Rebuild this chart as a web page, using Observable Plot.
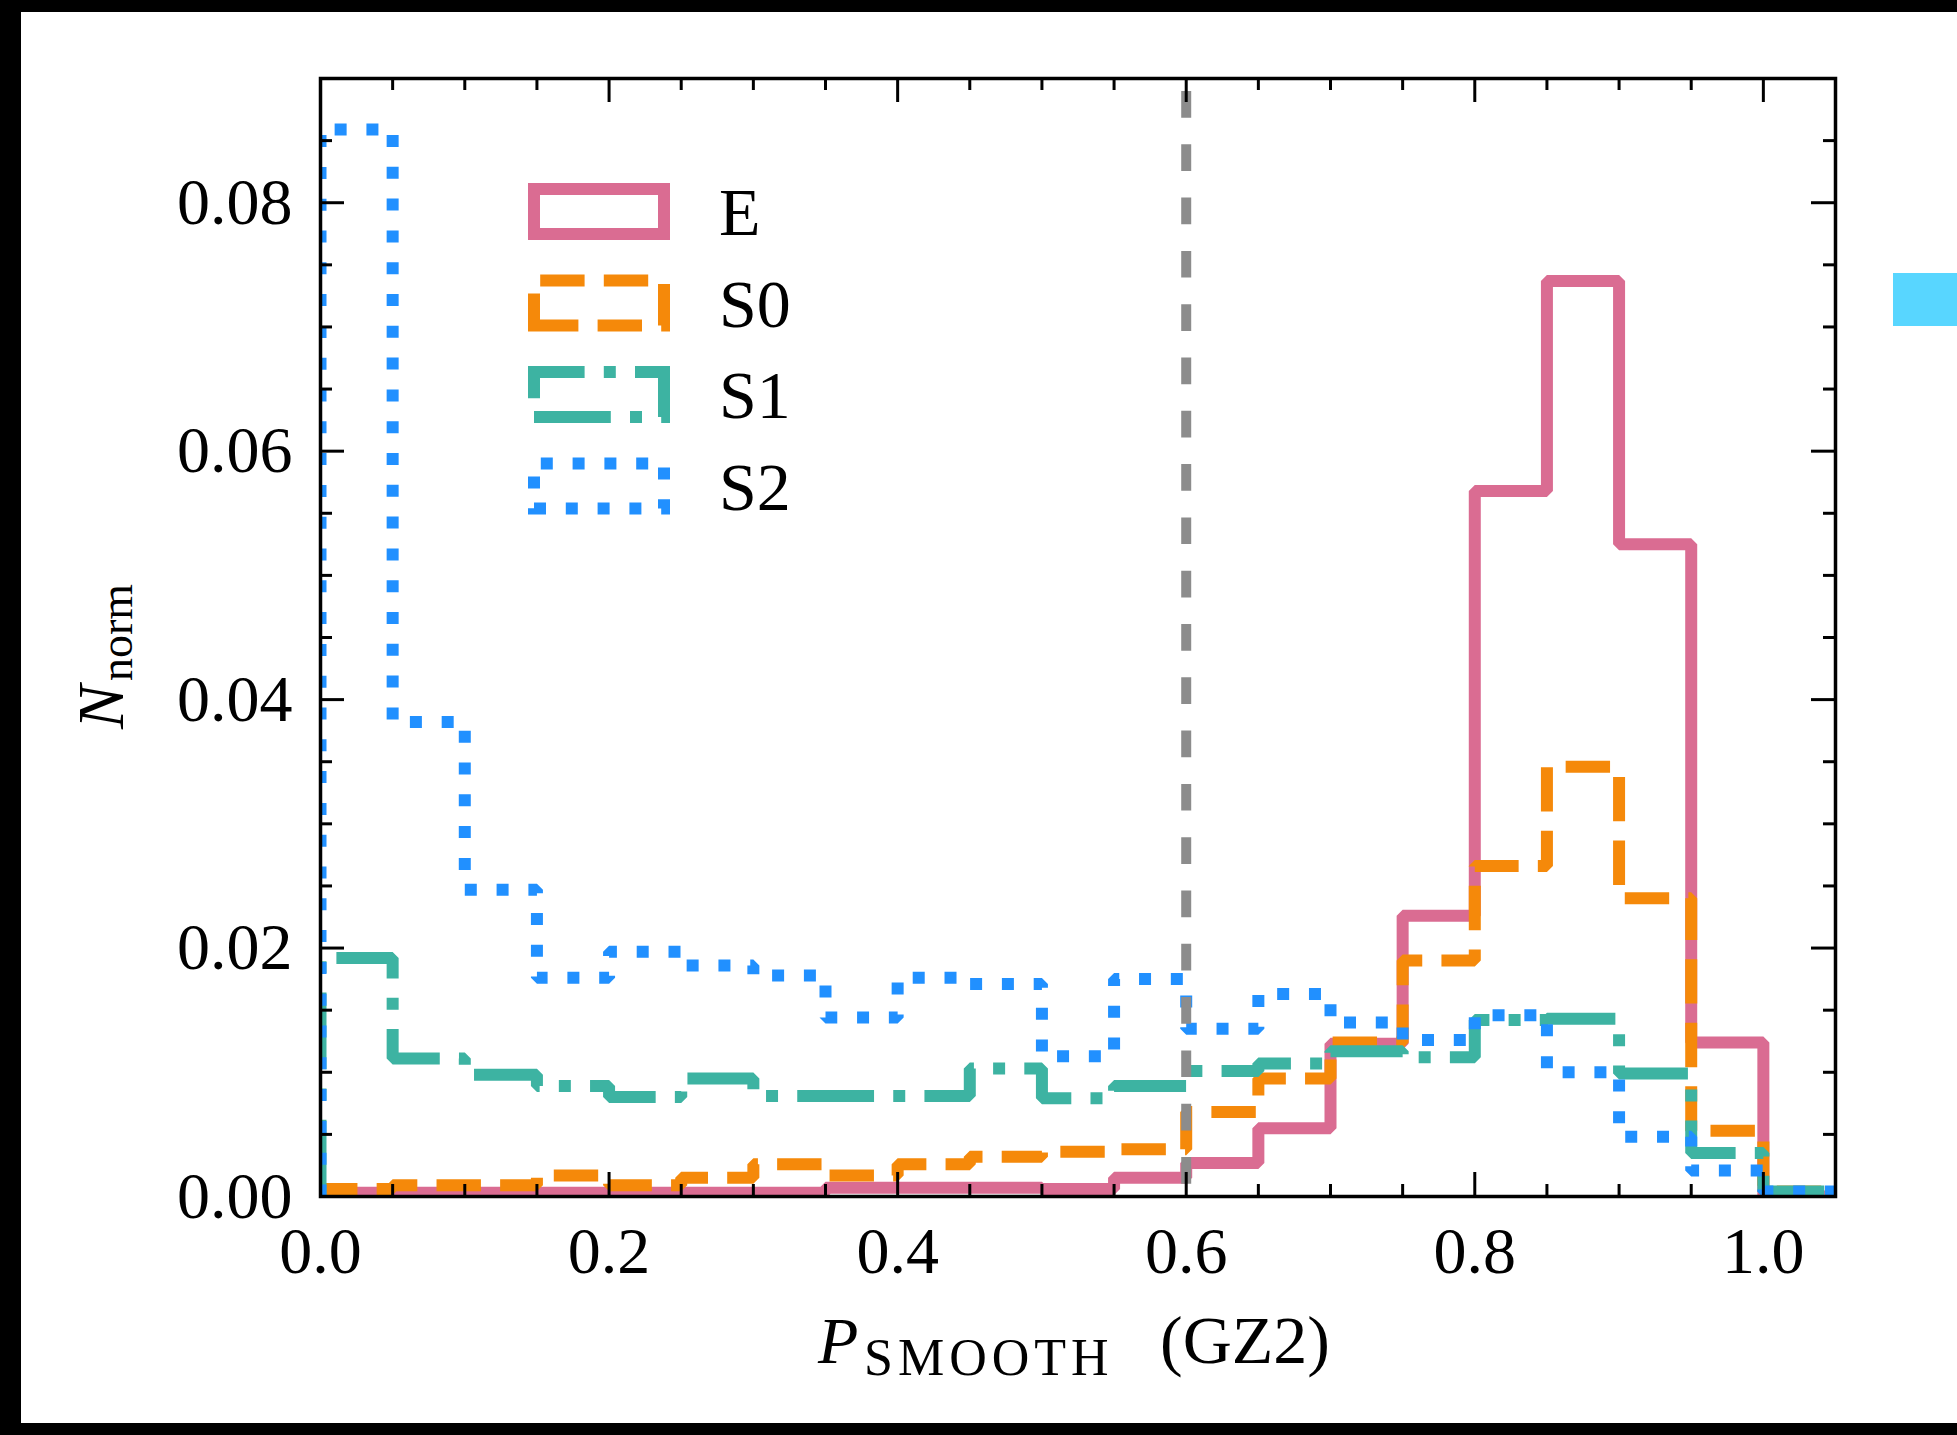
<!DOCTYPE html>
<html>
<head>
<meta charset="utf-8">
<script src="https://cdn.jsdelivr.net/npm/d3@7"></script>
<script src="https://cdn.jsdelivr.net/npm/@observablehq/plot@0.6"></script>
<style>
html, body { margin: 0; padding: 0; background: #fff; }
#wrap { position: relative; width: 1957px; height: 1435px; overflow: hidden; background: #fff; }
#wrap svg { position: absolute; left: 0; top: 0; }
.band { position: absolute; background: #000; }
</style>
</head>
<body>
<div id="wrap"></div>
<script>
// ---- data ----
const binStart = [0.00, 0.05, 0.10, 0.15, 0.20, 0.25, 0.30, 0.35, 0.40, 0.45, 0.50,
                  0.55, 0.60, 0.65, 0.70, 0.75, 0.80, 0.85, 0.90, 0.95, 1.00];
const lastEdge = 1.05;
const seriesNames = ["E", "S0", "S1", "S2"];
const valuesE  = [0.0003, 0.0003, 0.0003, 0.0003, 0.0003, 0.0003, 0.0003, 0.0007, 0.0007, 0.0007, 0.0006,
                  0.0015, 0.0027, 0.0055, 0.0123, 0.0226, 0.0568, 0.0737, 0.0525, 0.0124, 0.0000];
const valuesS0 = [0.0006, 0.0009, 0.0009, 0.0017, 0.0009, 0.0015, 0.0026, 0.0017, 0.0026, 0.0032, 0.0036,
                  0.0038, 0.0068, 0.0095, 0.0124, 0.0190, 0.0266, 0.0346, 0.0240, 0.0053, 0.0004];
const valuesS1 = [0.0192, 0.0111, 0.0098, 0.0089, 0.0080, 0.0095, 0.0081, 0.0081, 0.0081, 0.0103, 0.0079,
                  0.0089, 0.0101, 0.0107, 0.0117, 0.0112, 0.0142, 0.0143, 0.0099, 0.0035, 0.0004];
const valuesS2 = [0.0859, 0.0382, 0.0247, 0.0176, 0.0197, 0.0186, 0.0178, 0.0144, 0.0176, 0.0171, 0.0113,
                  0.0175, 0.0135, 0.0163, 0.0140, 0.0126, 0.0146, 0.0100, 0.0048, 0.0021, 0.0004];
const threshold = 0.6;
const xMajorTicks = [0.0, 0.2, 0.4, 0.6, 0.8, 1.0];
const xMinorTicks = [0.05, 0.10, 0.15, 0.25, 0.30, 0.35, 0.45, 0.50, 0.55, 0.65, 0.70, 0.75, 0.85, 0.90, 0.95];
const yMajorTicks = [0.00, 0.02, 0.04, 0.06, 0.08];
const yMinorTicks = [0.005, 0.010, 0.015, 0.025, 0.030, 0.035, 0.045, 0.050, 0.055, 0.065, 0.070, 0.075, 0.085];

// ---- styles ----
const LW = 12;
const styles = {
  E:  {color: "#DA6C92", dash: null},
  S0: {color: "#F5890A", dash: [3.7 * LW, 1.6 * LW].join(" ")},
  S1: {color: "#3DB3A2", dash: [6.4 * LW, 1.6 * LW, 1 * LW, 1.6 * LW].join(" ")},
  S2: {color: "#2190FF", dash: [1 * LW, 1.65 * LW].join(" ")}
};
const allValues = {E: valuesE, S0: valuesS0, S1: valuesS1, S2: valuesS2};

function stepRows(name) {
  const v = allValues[name];
  const rows = [{x: binStart[0], y: 0}];
  binStart.forEach((b, i) => rows.push({x: b, y: v[i]}));
  rows.push({x: lastEdge, y: v[v.length - 1]});
  rows.push({x: lastEdge, y: 0});
  return rows;
}

const W = 1957, H = 1435, mL = 320, mR = 122, mT = 78, mB = 239;
const fw = W - mL - mR, fh = H - mT - mB;
const FONT = "'Liberation Serif', 'Times New Roman', serif";

const lineMarks = seriesNames.map(name => Plot.line(stepRows(name), {
  x: "x", y: "y", curve: "step-after",
  stroke: styles[name].color, strokeWidth: LW,
  strokeDasharray: styles[name].dash || undefined,
  strokeLinecap: "butt", strokeLinejoin: "miter",
  clip: true
}));

const plot = Plot.plot({
  width: W, height: H,
  marginLeft: mL, marginRight: mR, marginTop: mT, marginBottom: mB,
  x: {domain: [0, lastEdge]},
  y: {domain: [0, 0.09]},
  style: {background: "white", fontFamily: FONT, color: "black", overflow: "visible"},
  marks: [
    ...lineMarks,
    Plot.ruleX([threshold], {x: d => d, y1: 0, y2: 0.09, stroke: "#8c8c8c", strokeWidth: 10,
      strokeDasharray: "26.7 26.6", strokeDashoffset: 41}),
    // inward ticks on all four sides
    Plot.tickX(xMajorTicks, {x: d => d, insetTop: fh - 24, stroke: "black", strokeWidth: 3}),
    Plot.tickX(xMajorTicks, {x: d => d, insetBottom: fh - 24, stroke: "black", strokeWidth: 3}),
    Plot.tickX(xMinorTicks, {x: d => d, insetTop: fh - 12, stroke: "black", strokeWidth: 3}),
    Plot.tickX(xMinorTicks, {x: d => d, insetBottom: fh - 12, stroke: "black", strokeWidth: 3}),
    Plot.tickY(yMajorTicks, {y: d => d, insetRight: fw - 24, stroke: "black", strokeWidth: 3}),
    Plot.tickY(yMajorTicks, {y: d => d, insetLeft: fw - 24, stroke: "black", strokeWidth: 3}),
    Plot.tickY(yMinorTicks, {y: d => d, insetRight: fw - 12, stroke: "black", strokeWidth: 3}),
    Plot.tickY(yMinorTicks, {y: d => d, insetLeft: fw - 12, stroke: "black", strokeWidth: 3}),
    Plot.axisX({ticks: xMajorTicks, tickSize: 0, tickPadding: 30, tickFormat: d3.format(".1f"),
      fontSize: 66, fontFamily: FONT, label: null}),
    Plot.axisY({ticks: yMajorTicks, tickSize: 0, tickPadding: 28, tickFormat: d3.format(".2f"),
      fontSize: 66, fontFamily: FONT, label: null}),
    Plot.frame({stroke: "black", strokeWidth: 3.5})
  ]
});

const wrap = document.getElementById("wrap");
wrap.appendChild(plot);

const svg = d3.select(plot);

// ---- legend ----
const legX0 = 534, legX1 = 664, legTop = 189, legH = 45, legStep = 91.5;
const leg = svg.append("g").attr("class", "legend").attr("text-anchor", "start");
seriesNames.forEach((name, i) => {
  const y0 = legTop + i * legStep, y1 = y0 + legH;
  leg.append("path")
    .attr("d", `M${legX0},${y1} H${legX1} V${y0} H${legX0} Z`)
    .attr("fill", "none")
    .attr("stroke", styles[name].color)
    .attr("stroke-width", LW)
    .attr("stroke-linejoin", "miter")
    .attr("stroke-linecap", "butt")
    .attr("stroke-dasharray", styles[name].dash || null);
  leg.append("text")
    .attr("x", 719).attr("y", y1 + 1)
    .attr("text-anchor", "start")
    .attr("font-family", FONT).attr("font-size", 68).attr("fill", "black")
    .text(name);
});

// ---- axis labels ----
const xl = svg.append("text").attr("y", 1363).attr("text-anchor", "start")
  .attr("font-family", FONT).attr("fill", "black");
xl.append("tspan").attr("x", 818).attr("font-size", 66).attr("font-style", "italic").text("P");
xl.append("tspan").attr("x", 864).attr("dy", 12).attr("font-size", 52).attr("letter-spacing", 5).text("SMOOTH");
xl.append("tspan").attr("x", 1160).attr("dy", -12).attr("font-size", 68).text("(GZ2)");

const yl = svg.append("text").attr("transform", "translate(123,729) rotate(-90)")
  .attr("text-anchor", "start")
  .attr("font-family", FONT).attr("fill", "black");
yl.append("tspan").attr("font-size", 66).attr("font-style", "italic").text("N");
yl.append("tspan").attr("dy", 9).attr("dx", 4).attr("font-size", 46).text("norm");

// ---- page edge decorations from the reference image ----
function band(l, t, w, h, color) {
  const d = document.createElement("div");
  d.className = "band";
  Object.assign(d.style, {left: l + "px", top: t + "px", width: w + "px", height: h + "px"});
  if (color) d.style.background = color;
  wrap.appendChild(d);
}
band(0, 0, 1957, 12);
band(0, 0, 21, 1435);
band(0, 1423, 1957, 12);
band(1893, 273, 64, 53, "#58D6FF");
</script>
</body>
</html>
